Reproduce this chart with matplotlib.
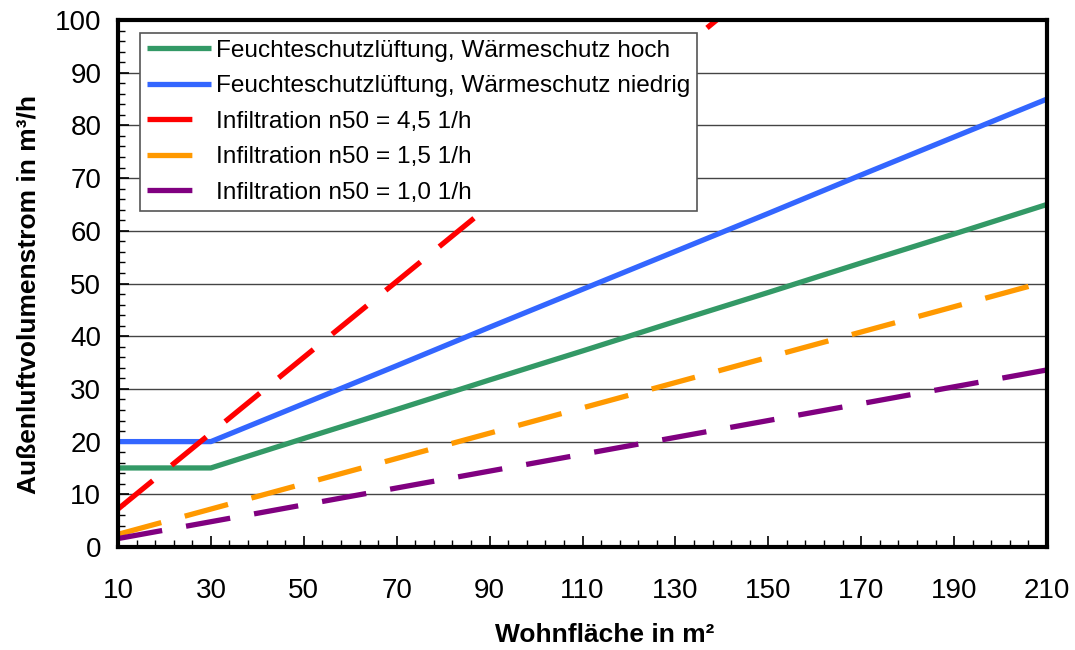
import matplotlib
matplotlib.use("Agg")
import matplotlib.pyplot as plt
import numpy as np
from matplotlib.ticker import MultipleLocator

plt.rcParams['font.family'] = ['Liberation Sans', 'DejaVu Sans']

area = [10, 30, 50, 70, 90, 110, 130, 150, 170, 190, 210]
feuchte_hoch = [15, 15, 20.6, 26.1, 31.7, 37.2, 42.8, 48.3, 53.9, 59.4, 65]
feuchte_niedrig = [20, 20, 27.2, 34.4, 41.7, 48.9, 56.1, 63.3, 70.6, 77.8, 85]
inf_45 = [7.2, 21.6, 36.0, 50.4, 64.8, 79.2, 93.6, 108.0, 122.4, 136.8, 151.2]
inf_15 = [2.4, 7.2, 12.0, 16.8, 21.6, 26.4, 31.2, 36.0, 40.8, 45.6, 50.4]
inf_10 = [1.6, 4.8, 8.0, 11.2, 14.4, 17.6, 20.8, 24.0, 27.2, 30.4, 33.6]
x_ticks = [10, 30, 50, 70, 90, 110, 130, 150, 170, 190, 210]
y_ticks = [0, 10, 20, 30, 40, 50, 60, 70, 80, 90, 100]

labels = ["Feuchteschutzlüftung, Wärmeschutz hoch",
          "Feuchteschutzlüftung, Wärmeschutz niedrig",
          "Infiltration n50 = 4,5 1/h",
          "Infiltration n50 = 1,5 1/h",
          "Infiltration n50 = 1,0 1/h"]
colors = ["#339966", "#3366FF", "#FF0000", "#FF9900", "#800080"]

fig = plt.figure(figsize=(10.75, 6.5), dpi=100)
ax = fig.add_axes([118/1075, 1-547/650, (1047-118)/1075, (547-20)/650])

lw = 3.8
dash = (8.5, 4.6)
ax.plot(area, feuchte_hoch, color=colors[0], lw=lw, label=labels[0], solid_capstyle='butt', zorder=3)
ax.plot(area, feuchte_niedrig, color=colors[1], lw=lw, label=labels[1], solid_capstyle='butt', zorder=3)
for ys, c, lab in [(inf_45, colors[2], labels[2]), (inf_15, colors[3], labels[3]), (inf_10, colors[4], labels[4])]:
    ax.plot(area, ys, color=c, lw=lw, label=lab, dashes=dash, dash_capstyle='butt', zorder=3)

ax.set_xlim(10, 210)
ax.set_ylim(0, 100)
ax.set_xticks(x_ticks)
ax.set_xticks(np.arange(10, 211, 4), minor=True)
ax.set_yticks(y_ticks)
ax.yaxis.set_minor_locator(MultipleLocator(2))
ax.tick_params(axis='both', which='major', direction='in', length=8, width=1.2, labelsize=20)
ax.tick_params(axis='both', which='minor', direction='in', length=5, width=1.0)
ax.tick_params(axis='x', which='major', pad=22)
ax.tick_params(axis='y', which='major', pad=12)
ax.yaxis.grid(True, which='major', color='#444444', lw=1.0, zorder=1)
ax.set_axisbelow(True)
for s in ax.spines.values():
    s.set_linewidth(3.0)
    s.set_color('black')
    s.set_zorder(5)

ax.set_xlabel("Wohnfläche in m²", fontsize=19, fontweight='bold', va='center')
ax.set_ylabel("Außenluftvolumenstrom in m³/h", fontsize=19, fontweight='bold', va='center')
ax.xaxis.set_label_coords((605-118)/929, -(635-547)/527)
ax.yaxis.set_label_coords(-(118-28)/929, (547-295)/527)

leg = ax.legend(loc='upper left', bbox_to_anchor=(0.024, 0.976), fontsize=17.6,
                frameon=True, fancybox=False, framealpha=1, edgecolor='#555555',
                handlelength=2.6, handletextpad=0.2, borderpad=0.28, labelspacing=0.55,
                borderaxespad=0)
leg.get_frame().set_linewidth(1.2)
leg.set_zorder(6)

fig.savefig("out.png", dpi=100)
